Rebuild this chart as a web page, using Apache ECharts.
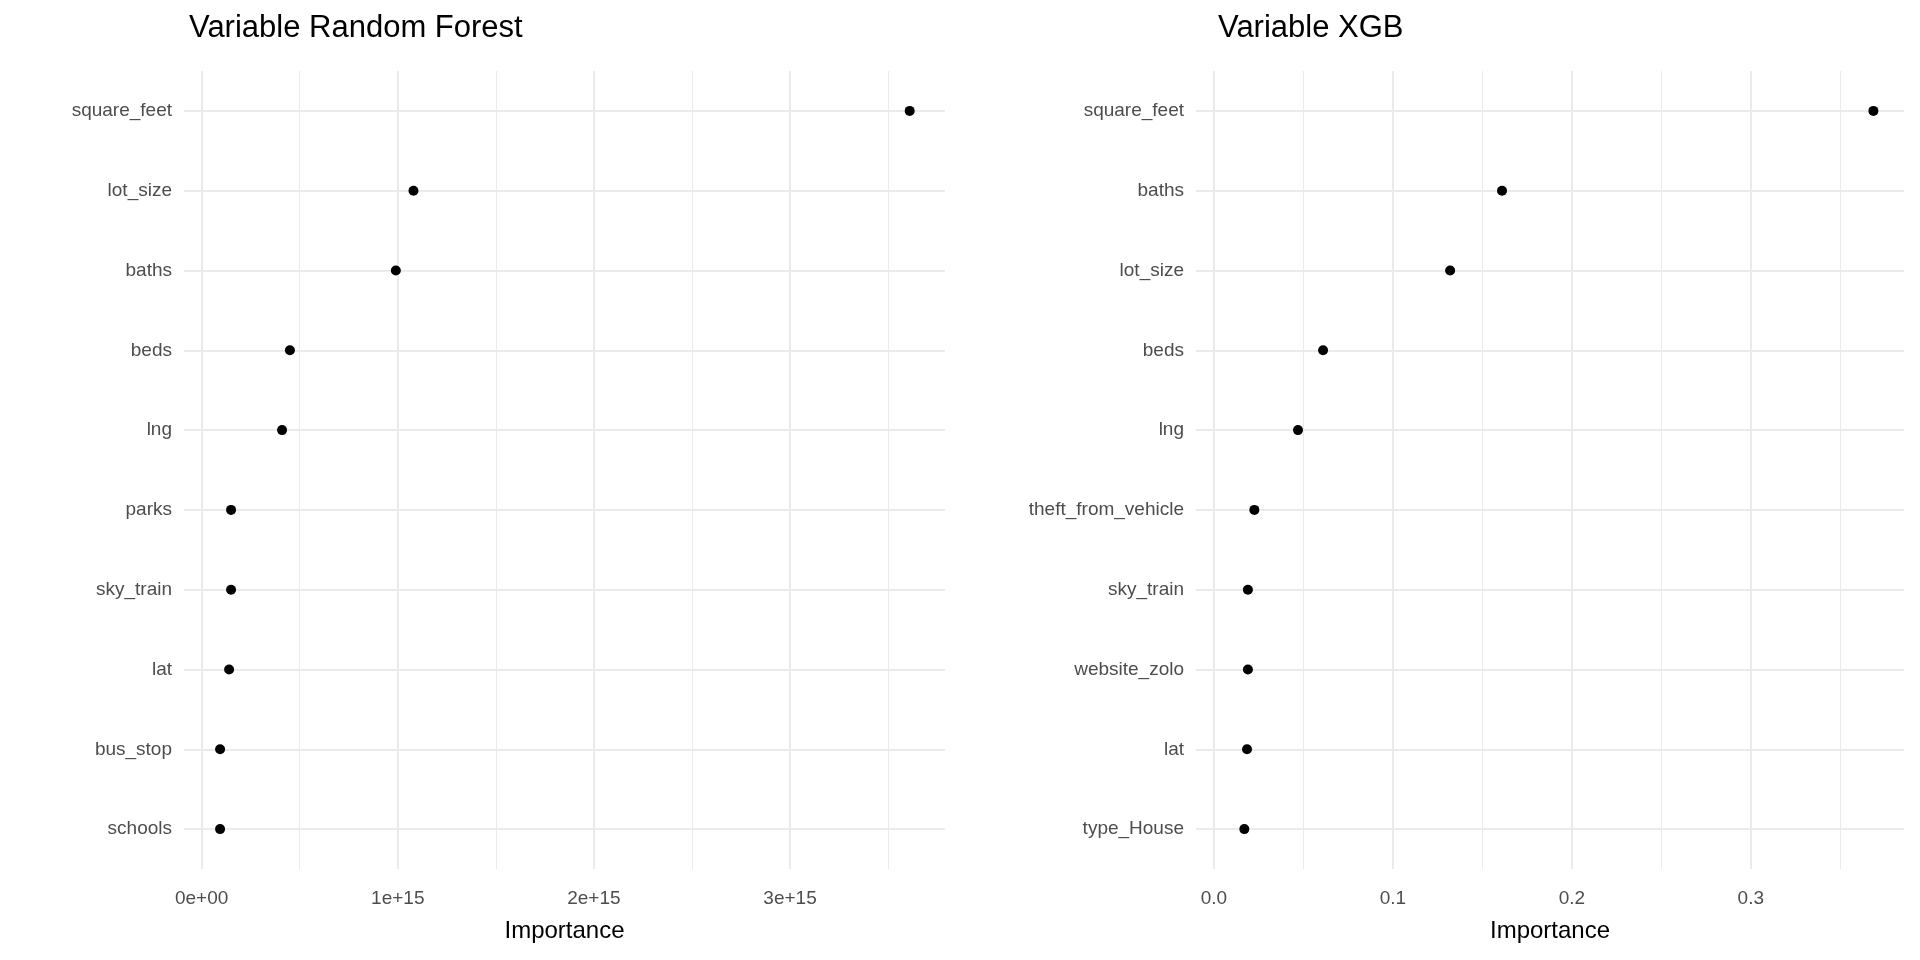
<!DOCTYPE html>
<html>
<head>
<meta charset="utf-8">
<script src="https://cdn.jsdelivr.net/npm/echarts@6/dist/echarts.min.js"></script>
<style>html,body{margin:0;padding:0;background:#fff}#chart{width:1920px;height:960px}</style>
</head>
<body>
<div id="chart"></div>
<script>
// data
var rfNames = ['square_feet', 'lot_size', 'baths', 'beds', 'lng', 'parks', 'sky_train', 'lat', 'bus_stop', 'schools'];
var rfValues = [3.61e15, 1.08e15, 0.99e15, 0.45e15, 0.41e15, 0.15e15, 0.15e15, 0.14e15, 0.094e15, 0.094e15];
var rfTicks = [0, 1e15, 2e15, 3e15];
var rfMinor = [0.5e15, 1.5e15, 2.5e15, 3.5e15];

var xgbNames = ['square_feet', 'baths', 'lot_size', 'beds', 'lng', 'theft_from_vehicle', 'sky_train', 'website_zolo', 'lat', 'type_House'];
var xgbValues = [0.3685, 0.161, 0.132, 0.061, 0.047, 0.0226, 0.019, 0.019, 0.0185, 0.017];
var xgbTicks = [0, 0.1, 0.2, 0.3];
var xgbMinor = [0.05, 0.15, 0.25, 0.35];

var grey = '#ebebeb';
var font = 'Liberation Sans, Arial, sans-serif';

function xAxis(idx, min, max, ticks, fmt) {
    return {
        type: 'value', gridIndex: idx, min: min, max: max,
        name: 'Importance', nameLocation: 'middle', nameGap: 50,
        nameTextStyle: { color: '#000', fontSize: 24, fontFamily: font },
        axisLine: { show: false },
        axisTick: { show: false, customValues: ticks },
        axisLabel: { customValues: ticks, formatter: fmt, color: '#4d4d4d', fontSize: 19, fontFamily: font, margin: 20 },
        splitLine: { show: true, lineStyle: { color: grey, width: 2 } }
    };
}
function yAxis(idx, names) {
    return {
        type: 'category', gridIndex: idx, data: names, inverse: true,
        axisLine: { show: false }, axisTick: { show: false, alignWithLabel: true },
        axisLabel: { color: '#4d4d4d', fontSize: 19, fontFamily: font, margin: 12 },
        splitLine: { show: false },
        boundaryGap: true
    };
}
function series(idx, vals, names, minor) {
    var lines = minor.map(function (v) {
        return { xAxis: v, lineStyle: { color: grey, width: 1, type: 'solid' } };
    }).concat(names.map(function (n) {
        return { yAxis: n, lineStyle: { color: grey, width: 2, type: 'solid' } };
    }));
    return {
        type: 'scatter', xAxisIndex: idx, yAxisIndex: idx, data: vals,
        symbolSize: 10, itemStyle: { color: '#000', opacity: 1 }, silent: true, z: 5,
        markLine: { silent: true, symbol: 'none', label: { show: false }, z: 1, data: lines }
    };
}

var chart = echarts.init(document.getElementById('chart'));
chart.setOption({
    backgroundColor: '#fff',
    animation: false,
    title: [
        { text: 'Variable Random Forest', left: 184, top: 8, textStyle: { color: '#000', fontSize: 31, fontWeight: 'normal', fontFamily: font } },
        { text: 'Variable XGB', left: 1213, top: 8, textStyle: { color: '#000', fontSize: 31, fontWeight: 'normal', fontFamily: font } }
    ],
    grid: [
        { left: 184, width: 761, top: 71, bottom: 91 },
        { left: 1196, right: 16, top: 71, bottom: 91 }
    ],
    xAxis: [
        xAxis(0, -0.09e15, 3.79e15, rfTicks, function (v) { return v === 0 ? '0e+00' : (v / 1e15) + 'e+15'; }),
        xAxis(1, -0.01, 0.3856, xgbTicks, function (v) { return v.toFixed(1); })
    ],
    yAxis: [yAxis(0, rfNames), yAxis(1, xgbNames)],
    series: [series(0, rfValues, rfNames, rfMinor), series(1, xgbValues, xgbNames, xgbMinor)]
});
</script>
</body>
</html>
